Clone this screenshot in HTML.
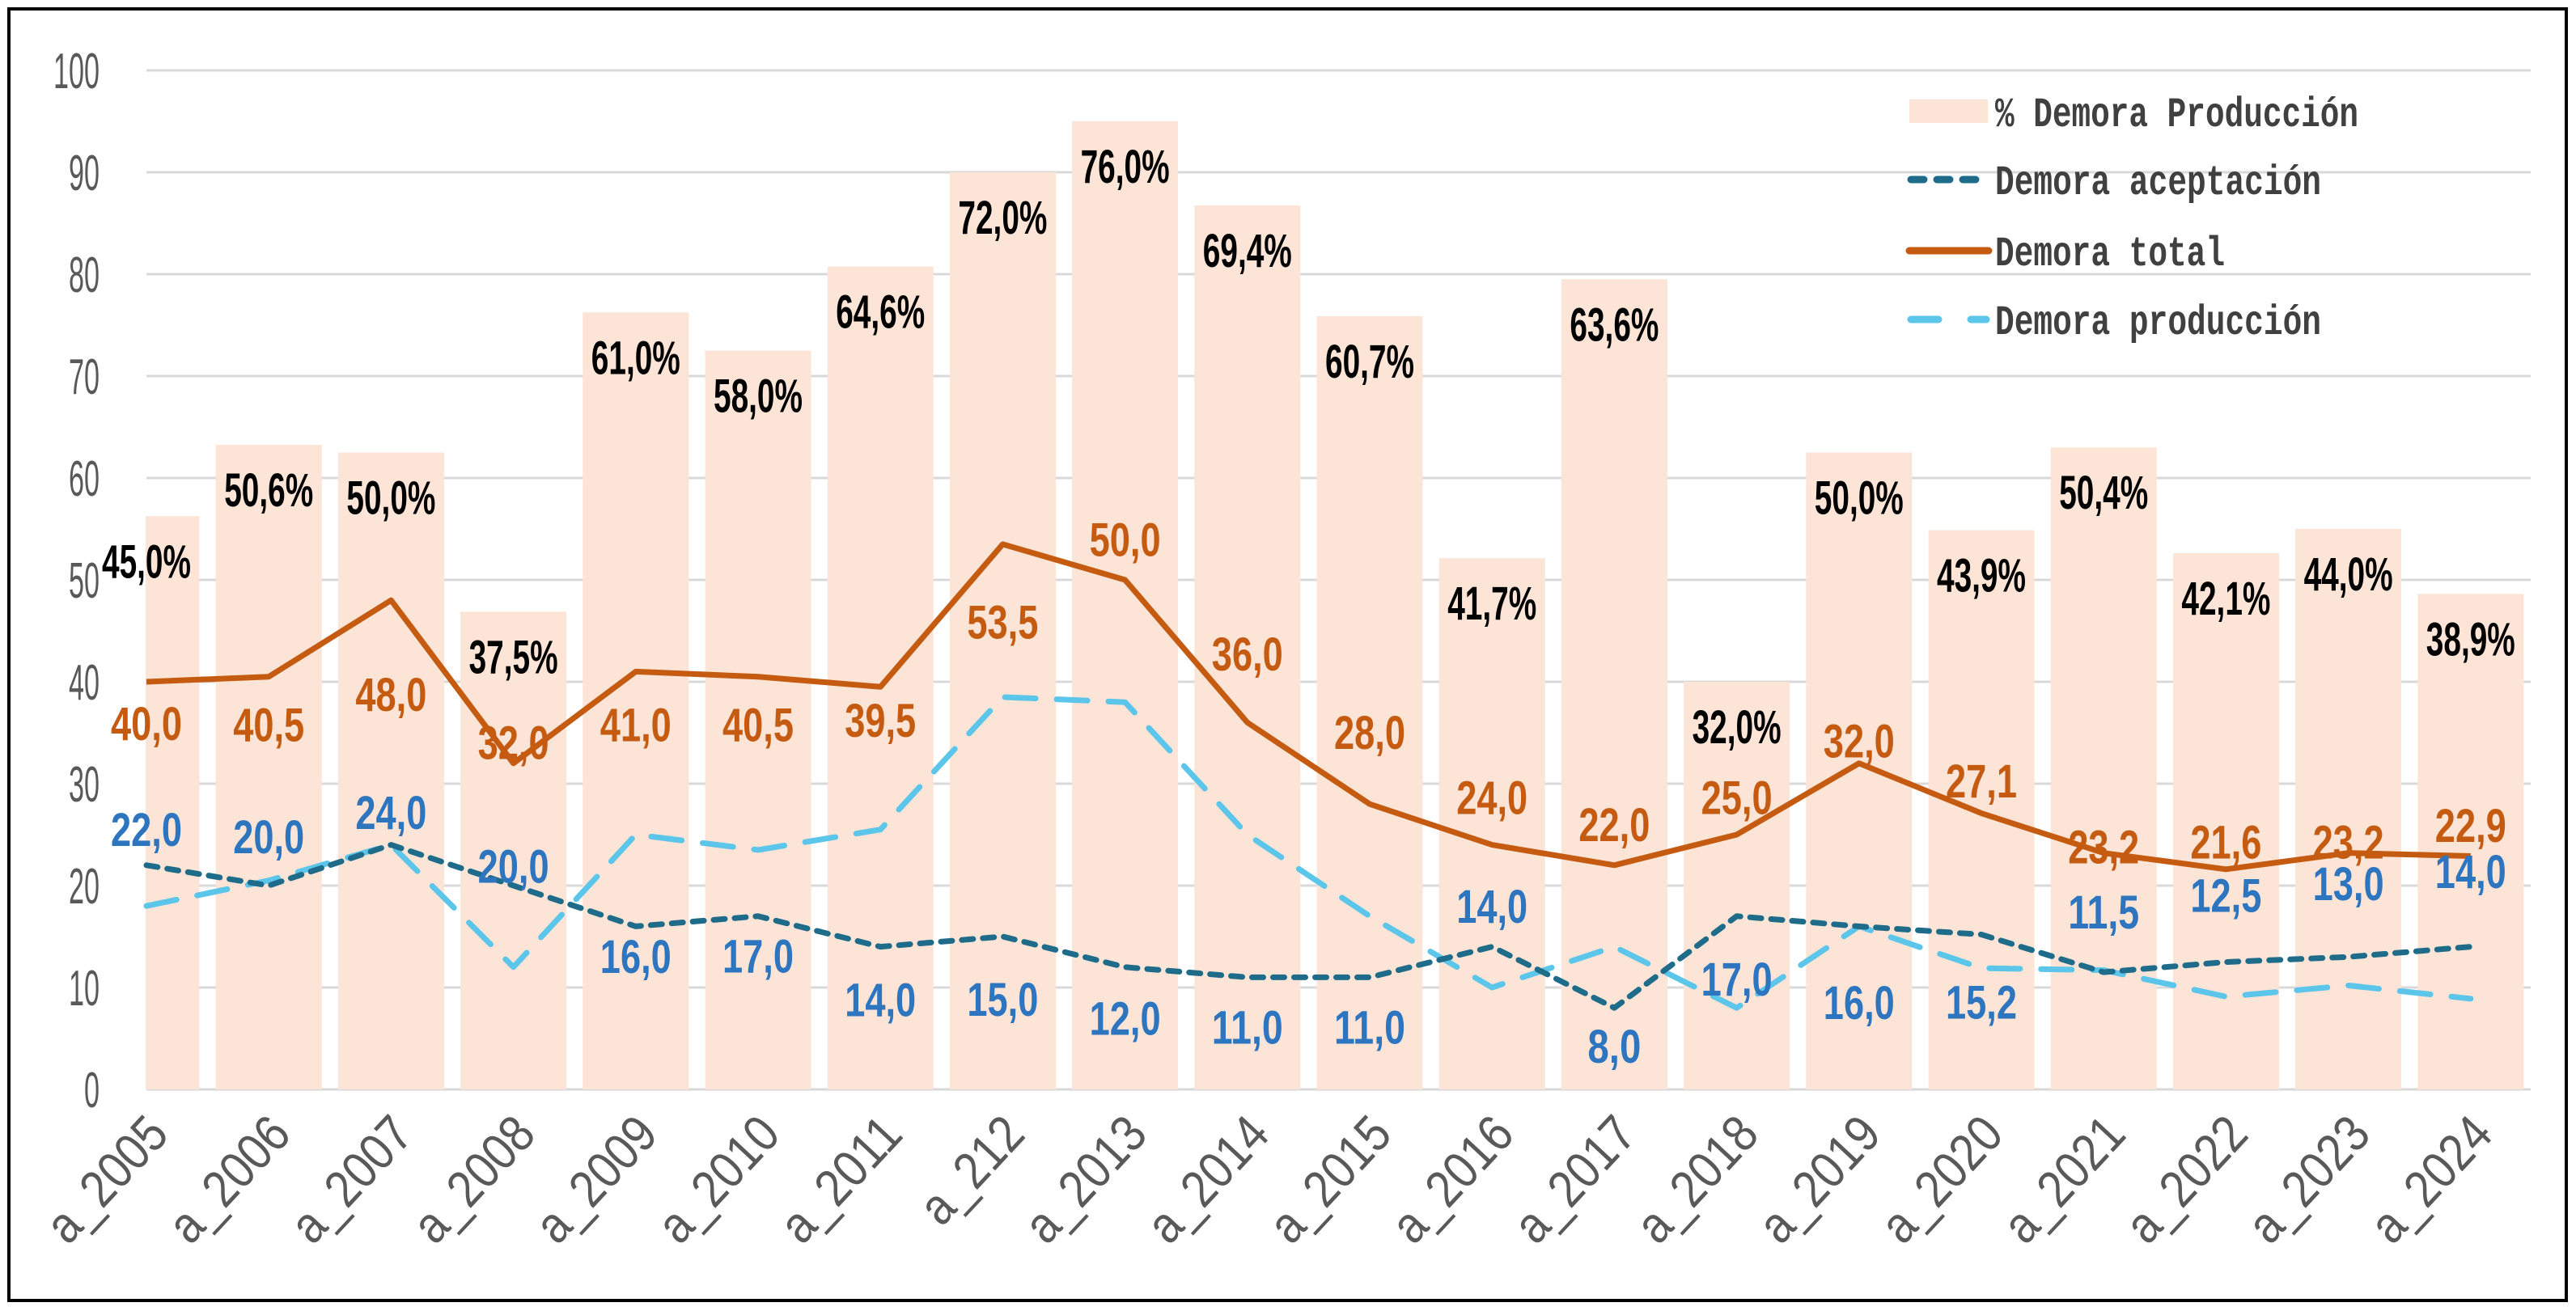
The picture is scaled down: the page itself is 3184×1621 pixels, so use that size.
<!DOCTYPE html>
<html><head><meta charset="utf-8"><style>
html,body{margin:0;padding:0;background:#fff;}
svg{display:block;}
</style></head><body>
<svg id="chart" xmlns="http://www.w3.org/2000/svg" width="3184" height="1621" viewBox="0 0 3184 1621">
<rect x="11" y="11" width="3161" height="1597" fill="#fff" stroke="#000" stroke-width="4"/>
<defs><clipPath id="plotclip"><rect x="180" y="0" width="2960" height="1400"/></clipPath></defs>
<g id="grid"></g>
<g id="bars" clip-path="url(#plotclip)"></g>
<g id="lines"></g>
<g id="labels"></g>
<g id="axes"></g>
<g id="legend">
  <rect x="2360" y="123" width="97" height="29" fill="#FCE4D6"/>
  <text x="2466" y="156" font-family="Liberation Mono, monospace" font-weight="bold" font-size="52" fill="#404040" textLength="449" lengthAdjust="spacingAndGlyphs">% Demora Producción</text>
  <line x1="2362" y1="222" x2="2455" y2="222" stroke="#1E6C8A" stroke-width="9" stroke-linecap="round" stroke-dasharray="16 16"/>
  <text x="2466" y="240" font-family="Liberation Mono, monospace" font-weight="bold" font-size="52" fill="#404040" textLength="403" lengthAdjust="spacingAndGlyphs">Demora aceptación</text>
  <line x1="2360" y1="310" x2="2458" y2="310" stroke="#C55A11" stroke-width="9" stroke-linecap="round"/>
  <text x="2466" y="328" font-family="Liberation Mono, monospace" font-weight="bold" font-size="52" fill="#404040" textLength="284" lengthAdjust="spacingAndGlyphs">Demora total</text>
  <line x1="2362" y1="395" x2="2455" y2="395" stroke="#5BC5EA" stroke-width="9" stroke-linecap="round" stroke-dasharray="34 40"/>
  <text x="2466" y="413" font-family="Liberation Mono, monospace" font-weight="bold" font-size="52" fill="#404040" textLength="403" lengthAdjust="spacingAndGlyphs">Demora producción</text>
</g>
</svg>
<script>
const categories = ["a_2005","a_2006","a_2007","a_2008","a_2009","a_2010","a_2011","a_212","a_2013","a_2014","a_2015","a_2016","a_2017","a_2018","a_2019","a_2020","a_2021","a_2022","a_2023","a_2024"];
const pctProduccion = [45.0,50.6,50.0,37.5,61.0,58.0,64.6,72.0,76.0,69.4,60.7,41.7,63.6,32.0,50.0,43.9,50.4,42.1,44.0,38.9];
const demoraAceptacion = [22,20,24,20,16,17,14,15,12,11,11,14,8,17,16,15.2,11.5,12.5,13,14];
const demoraTotal = [40,40.5,48,32,41,40.5,39.5,53.5,50,36,28,24,22,25,32,27.1,23.2,21.6,23.2,22.9];
const demoraProduccion = [18,20.5,24,12,25,23.5,25.5,38.5,38,25,17,10,14,8,16,11.9,11.7,9.1,10.2,8.9];
const yTicks = [0,10,20,30,40,50,60,70,80,90,100];
const barScale = 1.25;
// label pixel offsets (style only)
const totalDy = [25,29,57,-13,32,29,20,47,-25,-42,-44,-29,-25,-23,-14,-20,-4,-17,-7,-19];
const acepDy = [-22,-30,-20,-12,18,24,32,38,31,30,30,-25,23,38,46,41,-37,-41,-45,-46];

const NS = "http://www.w3.org/2000/svg";
const x0 = 181, pitch = 151.2, barW = 131;
function xPos(i){ return x0 + i*pitch; }
function yPos(v){ return 1347 - v*12.6; }
function mk(tag, attrs, parent){
  const e = document.createElementNS(NS, tag);
  for (const k in attrs) e.setAttribute(k, attrs[k]);
  parent.appendChild(e); return e;
}
function fmt(v, d){ return v.toFixed(d).replace('.', ','); }

const grid = document.getElementById('grid');
const axes = document.getElementById('axes');
yTicks.forEach(t => {
  const g = mk('line', {x1:181, x2:3128, y1:yPos(t), y2:yPos(t), stroke:'#d9d9d9', 'stroke-width':3}, grid);
  
  
  const tx = mk('text', {x:123, y:yPos(t)+22, 'text-anchor':'end', 'font-family':'Liberation Sans, sans-serif', 'font-size':62, fill:'#595959', textLength: String(t).length*19, lengthAdjust:'spacingAndGlyphs'}, axes);
  tx.textContent = t;
  
  
});

const bars = document.getElementById('bars');
pctProduccion.forEach((p, i) => {
  const h = p*barScale;
  const r = mk('rect', {x:xPos(i)-barW/2, y:yPos(h), width:barW, height:yPos(0)-yPos(h), fill:'#FCE4D6'}, bars);
  
  
});

const lines = document.getElementById('lines');
function pts(arr){ return arr.map((v,i)=> xPos(i)+','+yPos(v)).join(' '); }
const lp = mk('polyline', {points:pts(demoraProduccion), fill:'none', stroke:'#5BC5EA', 'stroke-width':7, 'stroke-dasharray':'38 26', 'stroke-linecap':'round', 'stroke-linejoin':'round'}, lines);


const la = mk('polyline', {points:pts(demoraAceptacion), fill:'none', stroke:'#1E6C8A', 'stroke-width':7, 'stroke-dasharray':'14 12', 'stroke-linecap':'round', 'stroke-linejoin':'round'}, lines);


const lt = mk('polyline', {points:pts(demoraTotal), fill:'none', stroke:'#C55A11', 'stroke-width':7, 'stroke-linejoin':'round'}, lines);



const labels = document.getElementById('labels');
categories.forEach((c, i) => {
  const cx = xPos(i);
  const pl = mk('text', {x:cx, y:yPos(pctProduccion[i]*barScale)+55+21, 'text-anchor':'middle', 'font-family':'Liberation Sans, sans-serif', 'font-weight':'bold', 'font-size':58, fill:'#000', textLength:110, lengthAdjust:'spacingAndGlyphs'}, labels);
  pl.textContent = fmt(pctProduccion[i],1) + '%';
  
  

  const ts = fmt(demoraTotal[i],1);
  const tl = mk('text', {x:cx, y:yPos(demoraTotal[i])+totalDy[i]*2.03+21, 'text-anchor':'middle', 'font-family':'Liberation Sans, sans-serif', 'font-weight':'bold', 'font-size':58, fill:'#C55A11', textLength:ts.length*22, lengthAdjust:'spacingAndGlyphs'}, labels);
  tl.textContent = ts;
  
  

  const as = fmt(demoraAceptacion[i],1);
  const al = mk('text', {x:cx, y:yPos(demoraAceptacion[i])+acepDy[i]*2.03+21, 'text-anchor':'middle', 'font-family':'Liberation Sans, sans-serif', 'font-weight':'bold', 'font-size':58, fill:'#2E75C0', textLength:as.length*22, lengthAdjust:'spacingAndGlyphs'}, labels);
  al.textContent = as;
  
  

  const xl = mk('text', {x:0, y:0, 'text-anchor':'end', 'font-family':'Liberation Sans, sans-serif', 'font-size':64, fill:'#595959', textLength: c.length*31, lengthAdjust:'spacingAndGlyphs', transform:'translate('+(cx+30)+',1405) rotate(-47)'}, axes);
  xl.textContent = c;
  
  
});
</script>
</body></html>
